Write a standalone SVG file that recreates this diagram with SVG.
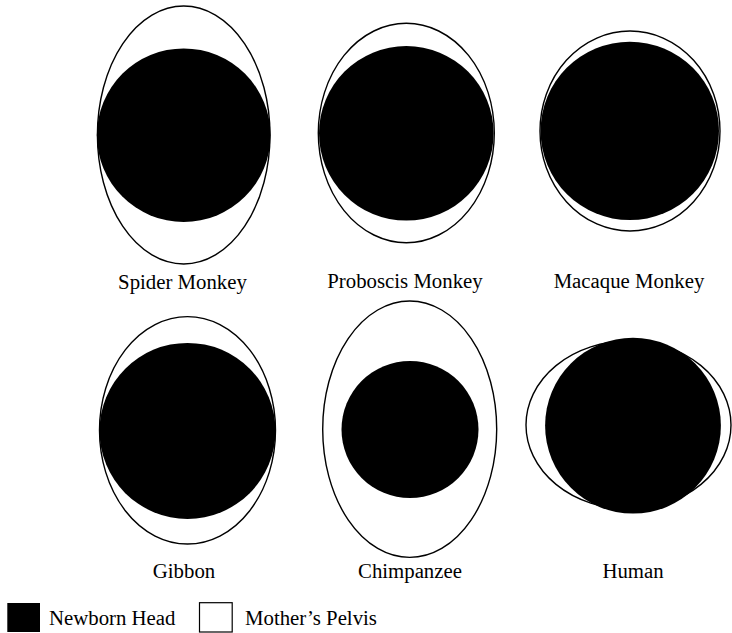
<svg xmlns="http://www.w3.org/2000/svg" width="732" height="633" viewBox="0 0 732 633">
<style>
.pelvis{fill:#fff;stroke:#000;stroke-width:1.4}
.head{fill:#000}
.lbl{font-family:'Liberation Serif','Times New Roman',Times,'DejaVu Serif',serif;font-size:20.8px;fill:#000;text-anchor:middle}
.leg{font-family:'Liberation Serif','Times New Roman',Times,'DejaVu Serif',serif;font-size:20.8px;fill:#000}
</style>
<rect width="732" height="633" fill="#fff"/>
<g id="spider">
<ellipse class="pelvis" cx="183.7" cy="135" rx="86.3" ry="129"/>
<circle class="head" cx="183.7" cy="135.2" r="86.8"/>
<text class="lbl" x="182.5" y="289" font-family="Liberation Serif, serif">Spider Monkey</text>
</g>
<g id="proboscis">
<ellipse class="pelvis" cx="406.3" cy="133" rx="88" ry="109.7"/>
<circle class="head" cx="406.3" cy="133.3" r="87.3"/>
<text class="lbl" x="405" y="288" font-family="Liberation Serif, serif">Proboscis Monkey</text>
</g>
<g id="macaque">
<ellipse class="pelvis" cx="630" cy="131" rx="90" ry="100"/>
<circle class="head" cx="629.8" cy="130.9" r="89.2"/>
<text class="lbl" x="629" y="288" font-family="Liberation Serif, serif">Macaque Monkey</text>
</g>
<g id="gibbon">
<ellipse class="pelvis" cx="187.5" cy="430.3" rx="88" ry="113.7"/>
<circle class="head" cx="187.5" cy="430.9" r="88"/>
<text class="lbl" x="184" y="578" font-family="Liberation Serif, serif">Gibbon</text>
</g>
<g id="chimpanzee">
<ellipse class="pelvis" cx="409.7" cy="429.2" rx="87" ry="128.2"/>
<circle class="head" cx="410" cy="429.5" r="68.5"/>
<text class="lbl" x="410" y="578" font-family="Liberation Serif, serif">Chimpanzee</text>
</g>
<g id="human">
<ellipse class="pelvis" cx="628.5" cy="425" rx="102.5" ry="84"/>
<circle class="head" cx="633" cy="425.7" r="87.9"/>
<text class="lbl" x="633" y="578" font-family="Liberation Serif, serif">Human</text>
</g>
<g id="legend">
<rect x="7.3" y="603" width="32.7" height="29" fill="#000"/>
<text class="leg" x="49" y="625" font-family="Liberation Serif, serif">Newborn Head</text>
<rect x="199.5" y="602.7" width="32.7" height="29.3" fill="#fff" stroke="#000" stroke-width="1.2"/>
<text class="leg" x="245" y="625" font-family="Liberation Serif, serif">Mother’s Pelvis</text>
</g>
<g id="connectors"/>
</svg>
